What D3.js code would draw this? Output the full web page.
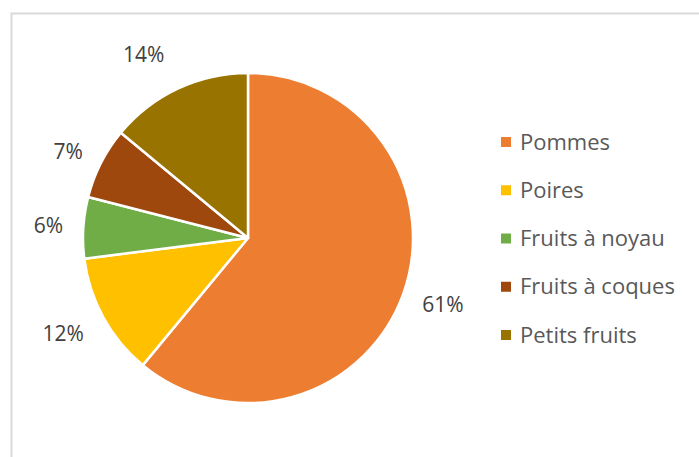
<!DOCTYPE html>
<html lang="fr">
<head>
    <meta charset="UTF-8">
    <title>Fruits</title>
    <style>
        body { margin: 0; background: #fff; }
        svg { display: block; font-family: "Open Sans", "Noto Sans", sans-serif; }
    </style>
</head>
<body>
    <svg class="chart-svg" width="699" height="457"></svg>
    <script src="https://d3js.org/d3.v7.min.js"></script>
    <script>
        // Data
        var categories = ["Pommes", "Poires", "Fruits à noyau", "Fruits à coques", "Petits fruits"];
        var values = [61, 12, 6, 7, 14];
        var labels = ["61%", "12%", "6%", "7%", "14%"];
        var colors = ["#ED7D31", "#FFC000", "#70AD47", "#9E480E", "#997300"];

        // small nudges so the labels sit like Excel's "best fit"
        var labelNudge = [[4, -2], [-7, -2], [3, 0], [1, 6], [-18, 0]];

        var svg = d3.select(".chart-svg");

        // chart frame
        svg.append("rect")
            .attr("x", 11.5)
            .attr("y", 13.5)
            .attr("width", 800)
            .attr("height", 600)
            .attr("fill", "none")
            .attr("stroke", "#d9d9d9")
            .attr("stroke-width", 2);

        var cx = 248, cy = 238, r = 165;

        var pie = d3.pie().sort(null).value(d => d);
        var arcs = pie(values);

        var arc = d3.arc().innerRadius(0).outerRadius(r);
        var labelArc = d3.arc().innerRadius(203).outerRadius(203);

        var g = svg.append("g").attr("transform", "translate(" + cx + "," + cy + ")");

        g.selectAll("path")
            .data(arcs)
            .enter()
            .append("path")
            .attr("d", arc)
            .attr("fill", (d, i) => colors[i])
            .attr("stroke", "#fff")
            .attr("stroke-width", 2.5)
            .attr("stroke-linejoin", "round");

        g.selectAll("text.pct")
            .data(arcs)
            .enter()
            .append("text")
            .attr("class", "pct")
            .attr("transform", (d, i) => {
                var c = labelArc.centroid(d);
                return "translate(" + (c[0] + labelNudge[i][0]) + "," + (c[1] + labelNudge[i][1]) + ")";
            })
            .attr("text-anchor", "middle")
            .attr("dy", "0.36em")
            .attr("font-size", 21)
            .attr("fill", "#404040")
            .text((d, i) => labels[i]);

        // legend
        var legendY = d3.scalePoint()
            .domain(categories)
            .range([142, 335]);

        var legend = svg.append("g").attr("class", "legend");
        var item = legend.selectAll("g")
            .data(categories)
            .enter()
            .append("g")
            .attr("transform", d => "translate(501," + legendY(d) + ")");

        item.append("rect")
            .attr("x", 0)
            .attr("y", -5)
            .attr("width", 10)
            .attr("height", 10)
            .attr("fill", (d, i) => colors[i]);

        item.append("text")
            .attr("x", 19)
            .attr("y", 7.5)
            .attr("font-size", 22)
            .attr("fill", "#595959")
            .text(d => d);
    </script>
</body>
</html>
